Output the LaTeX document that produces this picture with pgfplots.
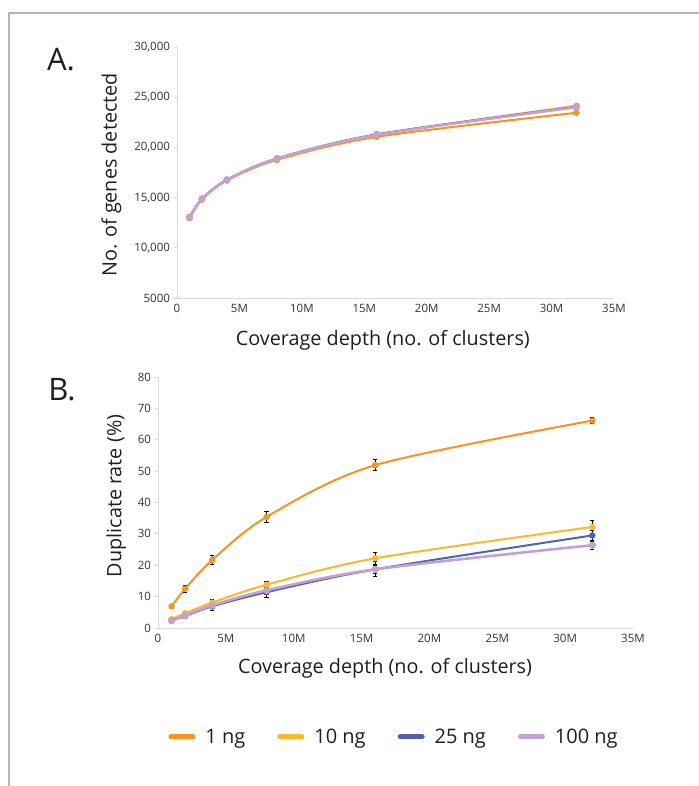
\documentclass[border=0pt]{standalone}
\usepackage{pgfplots}
\pgfplotsset{compat=1.18}
\usepackage{pgfplotstable}
\usepackage{fontspec}
\setmainfont{Open Sans}
\definecolor{cOne}{HTML}{F7931E}
\definecolor{cTen}{HTML}{FDB72A}
\definecolor{cTwentyFive}{HTML}{5461AF}
\definecolor{cHundred}{HTML}{C3A1D1}
\definecolor{axisgray}{HTML}{D9D9D9}
\definecolor{framegray}{HTML}{B5B5B5}
\definecolor{ticktext}{HTML}{333333}
\definecolor{labeltext}{HTML}{1E1E1E}

\pgfplotstableread{
x y
1 12950
2 14800
4 16700
8 18750
16 21050
32 23450
}\genesOne
\pgfplotstableread{
x y
1 13000
2 14850
4 16750
8 18850
16 21250
32 24150
}\genesTen
\pgfplotstableread{
x y
1 13050
2 14880
4 16780
8 18900
16 21300
32 24050
}\genesTwentyFive
\pgfplotstableread{
x y
1 13050
2 14870
4 16750
8 18870
16 21250
32 24000
}\genesHundred

\pgfplotstableread{
x y e
1 6.9 0.3
2 12.5 1.0
4 21.7 1.3
8 35.4 1.8
16 51.9 1.8
32 66.1 1.0
}\dupOne
\pgfplotstableread{
x y e
1 2.8 0.3
2 4.7 0.6
4 8.1 0.9
8 13.8 1.0
16 22.2 1.8
32 32.2 2.0
}\dupTen
\pgfplotstableread{
x y e
1 2.4 0.3
2 3.8 0.8
4 6.9 1.2
8 11.4 1.8
16 18.7 2.4
32 29.5 1.5
}\dupTwentyFive
\pgfplotstableread{
x y e
1 2.3 0.3
2 4.0 0.6
4 7.2 0.9
8 12.0 1.2
16 18.7 1.3
32 26.4 1.3
}\dupHundred

\pgfplotsset{
  panel/.style={
    scale only axis,
    axis line style={axisgray, line width=0.9pt},
    axis x line*=bottom, axis y line*=left,
    xmin=0, xmax=35,
    xtick={0,5,10,15,20,25,30,35},
    xticklabels={0,5M,10M,15M,20M,25M,30M,35M},
    x tick style={draw=none},
    y tick style={axisgray, line width=0.8pt},
    tick align=outside,
    major tick length=3.5pt,
    ticklabel style={font=\fontsize{11.5}{13}\selectfont, text=ticktext},
    xticklabel style={yshift=1pt},
    label style={font=\fontsize{19.8}{23}\selectfont, text=labeltext},
    /pgf/number format/assume math mode=true,
    clip=false,
    every axis plot/.append style={line width=2pt, smooth, mark=*, mark size=2.2pt},
  },
  errs/.style={error bars/.cd, y dir=both, y explicit,
    error bar style={black, line width=0.8pt, solid},
    error mark options={black, rotate=90, mark size=2.2pt, line width=0.8pt}},
}

\begin{document}
\begin{tikzpicture}[x=1pt,y=1pt]
\useasboundingbox (0,0) rectangle (698,786);
\draw[framegray, line width=1.4pt] (9,-2) -- (9,773) -- (700,773);

\node[font=\fontsize{31}{34}\selectfont, text=labeltext] at (61,726) {A.};
\node[font=\fontsize{31}{34}\selectfont, text=labeltext] at (62,396) {B.};

\begin{axis}[panel, name=A,
  at={(177pt,488pt)}, anchor=south west,
  width=437pt, height=251pt,
  ymin=5000, ymax=30000, scaled y ticks=false,
  ytick={5000,10000,15000,20000,25000,30000},
  yticklabels={5000,{10,000},{15,000},{20,000},{25,000},{30,000}},
  xlabel={Coverage depth (no. of clusters)},
  ylabel={No. of genes detected},
  xlabel style={at={(axis description cs:0.471,-0.167)}, anchor=center},
  ylabel style={at={(axis description cs:-0.150,0.49)}, anchor=center},
]
\addplot[cOne, mark options={cOne}] table[x=x,y=y] {\genesOne};
\addplot[cTen, mark options={cTen}] table[x=x,y=y] {\genesTen};
\addplot[cTwentyFive, mark options={cTwentyFive}] table[x=x,y=y] {\genesTwentyFive};
\addplot[cHundred, line width=2.6pt, mark options={cHundred}] table[x=x,y=y] {\genesHundred};
\end{axis}

\begin{axis}[panel, name=B,
  at={(158pt,158pt)}, anchor=south west,
  width=475pt, height=251pt,
  ymin=0, ymax=80,
  ytick={0,10,20,30,40,50,60,70,80},
  yticklabels={0,10,20,30,40,50,60,70,80},
  xlabel={Coverage depth (no. of clusters)},
  ylabel={Duplicate rate (\%)},
  xlabel style={at={(axis description cs:0.478,-0.159)}, anchor=center},
  ylabel style={at={(axis description cs:-0.088,0.526)}, anchor=center},
  legend columns=4,
  legend style={at={(axis description cs:0.497,-0.434)}, anchor=center,
    draw=none, fill=none, font=\fontsize{20}{23}\selectfont, text=labeltext,
    /tikz/every odd column/.append style={column sep=8pt},
    /tikz/every even column/.append style={column sep=30pt}},
  legend image code/.code={\draw[line width=5pt, line cap=round, solid] (2.5pt,0pt) -- (24.5pt,0pt);},
  legend cell align=left,
]
\addplot[cOne, mark options={cOne}, errs] table[x=x,y=y,y error=e] {\dupOne};
\addlegendentry{1 ng}
\addplot[cTen, mark options={cTen}, errs] table[x=x,y=y,y error=e] {\dupTen};
\addlegendentry{10 ng}
\addplot[cTwentyFive, mark options={cTwentyFive}, errs] table[x=x,y=y,y error=e] {\dupTwentyFive};
\addlegendentry{25 ng}
\addplot[cHundred, line width=2.6pt, mark options={cHundred}, errs] table[x=x,y=y,y error=e] {\dupHundred};
\addlegendentry{100 ng}
\end{axis}
\end{tikzpicture}
\end{document}
